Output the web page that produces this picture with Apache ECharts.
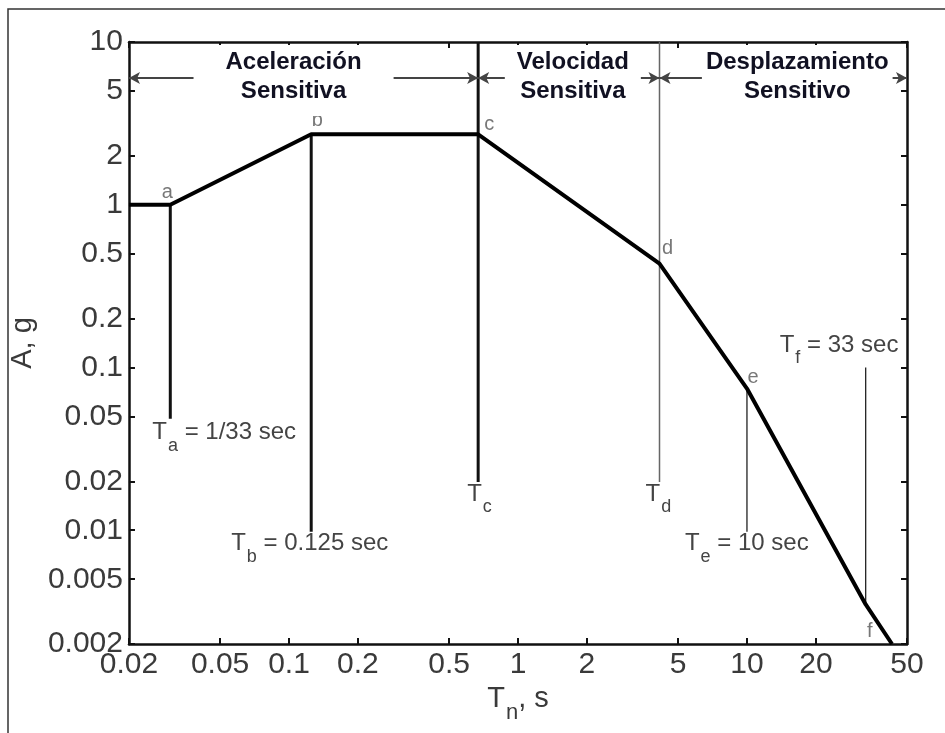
<!DOCTYPE html>
<html>
<head>
<meta charset="utf-8">
<script src="https://cdn.jsdelivr.net/npm/echarts@6/dist/echarts.min.js"></script>
<style>
html, body { margin: 0; padding: 0; background: #fff; }
#chart { width: 945px; height: 733px; }
</style>
</head>
<body>
<div id="chart"></div>
<script>
// 设计谱: 周期 (s) / 加速度 (g)
var periods = [0.02, 1 / 33, 0.125, 0.67, 4.15, 10, 33, 43];
var accels = [1, 1, 2.71, 2.71, 0.435, 0.0742, 0.0035, 0.002];
var pointNames = ['', 'a', 'b', 'c', 'd', 'e', 'f', ''];

// 竖线: 周期, 上端, 下端
var cornerT = [1 / 33, 0.125, 0.67, 4.15, 10, 33];
var cornerTop = [1, 2.71, 10, 10, 0.0742, 0.1];
var cornerBottom = [0.0485, 0.0098, 0.0198, 0.0198, 0.0098, 0.0035];
var cornerSub = ['a', 'b', 'c', 'd', 'e', 'f'];
var cornerText = [' = 1/33 sec', ' = 0.125 sec', '', '', ' = 10 sec', ' = 33 sec'];

// 刻度
var xTicks = [0.02, 0.05, 0.1, 0.2, 0.5, 1, 2, 5, 10, 20, 50];
var yTicks = [0.002, 0.005, 0.01, 0.02, 0.05, 0.1, 0.2, 0.5, 1, 2, 5, 10];

// 区域
var zoneNames = ['Aceleración\nSensitiva', 'Velocidad\nSensitiva', 'Desplazamiento\nSensitivo'];
var zoneFrom = [0.02, 0.67, 4.15];
var zoneTo = [0.67, 4.15, 50];
var zoneLevel = 6;

var FONT = '"Liberation Sans", Arial, sans-serif';
var chart = echarts.init(document.getElementById('chart'));

function fmt(v) {
    return String(+v.toPrecision(3));
}

function makeAxis(pos, ticks, showLabel) {
    return {
        type: 'log',
        logBase: 10,
        position: pos,
        min: ticks[0],
        max: ticks[ticks.length - 1],
        splitLine: { show: false },
        axisLine: { show: true, lineStyle: { color: '#111', width: 2.5 } },
        axisTick: { show: true, inside: true, length: 6, customValues: ticks, lineStyle: { color: '#111', width: 2 } },
        axisLabel: {
            show: showLabel, customValues: ticks, formatter: fmt,
            fontSize: 30, color: '#3a3a3a', fontFamily: FONT, margin: 6
        },
        minorTick: { show: false }
    };
}

var xBottom = makeAxis('bottom', xTicks, true);
xBottom.name = '{t|T}{s|n}{t|, s}';
xBottom.nameLocation = 'middle';
xBottom.nameGap = 35;
xBottom.nameTextStyle = {
    rich: {
        t: { fontSize: 29, color: '#3a3a3a', fontFamily: FONT, verticalAlign: 'top' },
        s: { fontSize: 22, color: '#3a3a3a', fontFamily: FONT, verticalAlign: 'top', padding: [17, 0, 0, 1] }
    }
};
var yLeft = makeAxis('left', yTicks, true);
yLeft.name = 'A, g';
yLeft.nameLocation = 'middle';
yLeft.nameGap = 84;
yLeft.nameTextStyle = { fontSize: 29, color: '#3a3a3a', fontFamily: FONT };

var pointOffsets = [[0, 0], [-3, -12], [6, -14], [11, -10], [8, -15], [6, -11], [4, 27], [0, 0]];

var series = [];
series.push({
    type: 'line',
    data: periods.map(function (t, i) { return [t, accels[i]]; }),
    symbol: 'none',
    lineStyle: { color: '#000', width: 4 },
    z: 5
});

var cornerWidth = [3, 3, 3, 1.5, 1.3, 1.3];
var cornerColor = ['#111', '#111', '#111', '#666', '#222', '#222'];
cornerT.forEach(function (t, i) {
    series.push({
        type: 'line',
        data: [[t, cornerTop[i]], [t, cornerBottom[i]]],
        symbol: 'none',
        lineStyle: { color: cornerColor[i], width: cornerWidth[i] },
        z: 4
    });
});

series.push({
    type: 'scatter',
    symbolSize: 1,
    itemStyle: { color: 'rgba(0,0,0,0)' },
    data: periods.map(function (t, i) {
        return {
            value: [t, accels[i]],
            name: pointNames[i],
            label: { offset: pointOffsets[i] }
        };
    }),
    label: {
        show: true, position: 'inside', formatter: '{b}',
        fontSize: 20, color: '#555', fontFamily: FONT
    },
    z: 6
});

series.push({
    type: 'line',
    data: [],
    markLine: {
        silent: true,
        animation: false,
        symbol: ['arrow', 'arrow'],
        symbolSize: [9, 11],
        label: { show: false },
        lineStyle: { color: '#444', width: 2, type: 'solid' },
        data: zoneFrom.map(function (f, i) {
            return [{ coord: [f, zoneLevel] }, { coord: [zoneTo[i], zoneLevel] }];
        })
    }
});

chart.setOption({
    animation: false,
    backgroundColor: '#fff',
    grid: { left: 128, right: 38, top: 42, bottom: 89, containLabel: false },
    xAxis: [xBottom, makeAxis('top', xTicks, false)],
    yAxis: [yLeft, makeAxis('right', yTicks, false)],
    series: series
});

// 标注文字
function px(x, y) {
    return chart.convertToPixel({ xAxisIndex: 0, yAxisIndex: 0 }, [x, y]);
}

var graphics = [{
    type: 'rect',
    shape: { x: 8, y: 9, width: 980, height: 780 },
    style: { fill: 'none', stroke: '#333', lineWidth: 1.5 },
    z: 1
}];

var zoneShift = [-10, 4, 14];
var zonePad = [[3, 32, 10, 32], [3, 12, 10, 12], [3, 4, 10, 4]];
zoneNames.forEach(function (name, i) {
    var a = px(zoneFrom[i], zoneLevel), b = px(zoneTo[i], zoneLevel);
    graphics.push({
        type: 'text',
        x: (a[0] + b[0]) / 2 + zoneShift[i],
        y: a[1] - 33,
        z: 100,
        style: {
            text: name,
            fontSize: 24, fontWeight: 'bold', fontFamily: FONT,
            fill: '#111122', align: 'center', verticalAlign: 'top',
            lineHeight: 29, backgroundColor: '#fff', padding: zonePad[i]
        }
    });
});

var labelAnchorTop = [false, false, false, false, false, true];
var labelShift = [[-18, 2], [-80, 0], [-11, 0], [-14, 0], [-62, 0], [-86, -34]];
cornerT.forEach(function (t, i) {
    var p = px(t, labelAnchorTop[i] ? cornerTop[i] : cornerBottom[i]);
    var txt = '{t|T}{s|' + cornerSub[i] + '}' + (cornerText[i] ? '{t|' + cornerText[i] + '}' : '');
    graphics.push({
        type: 'text',
        x: p[0] + labelShift[i][0],
        y: p[1] + labelShift[i][1],
        z: 50,
        style: {
            text: txt, align: 'left', verticalAlign: 'top',
            rich: {
                t: { fontSize: 24, fill: '#444', fontFamily: FONT, verticalAlign: 'top' },
                s: { fontSize: 18, fill: '#444', fontFamily: FONT, verticalAlign: 'top', padding: [16, 0, 0, 1] }
            }
        }
    });
});

chart.setOption({ graphic: graphics });
</script>
</body>
</html>
